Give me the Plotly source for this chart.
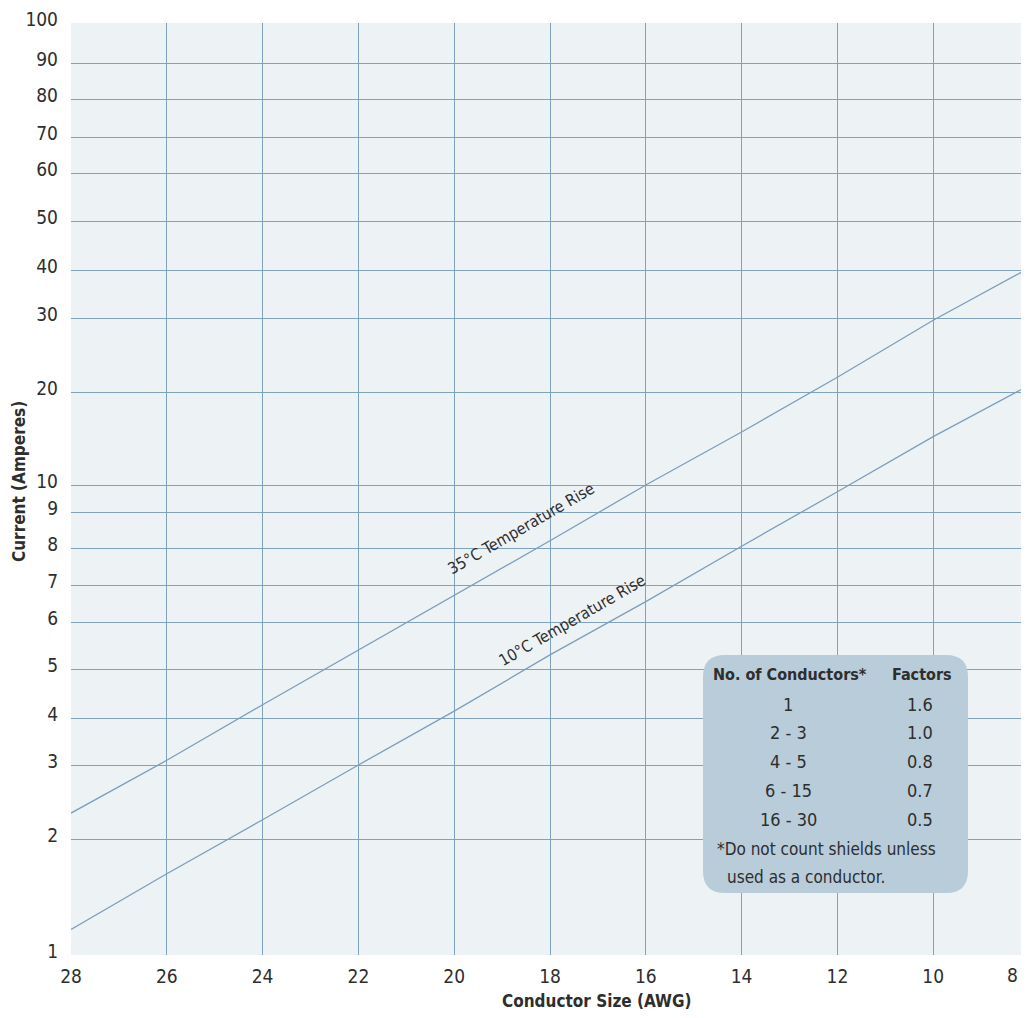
import numpy as np
import plotly.graph_objects as go

# ---------------- data ----------------
AWG = [28, 26, 24, 22, 20, 18, 16, 14, 12, 10, 8]
RISE_35C = [2.35, 3.1, 4.27, 5.4, 6.7, 8.2, 10.0, 15.7, 22.0, 29.7, 40.4]
RISE_10C = [1.22, 1.7, 2.26, 3.0, 4.14, 5.3, 6.55, 8.05, 9.75, 15.2, 20.9]

Y_TICK_VALUES = [1, 2, 3, 4, 5, 6, 7, 8, 9, 10, 20, 30, 40, 50, 60, 70, 80, 90, 100]
X_TICK_VALUES = [28, 26, 24, 22, 20, 18, 16, 14, 12, 10, 8]

TABLE_CONDUCTORS = ["1", "2 - 3", "4 - 5", "6 - 15", "16 - 30"]
TABLE_FACTORS = ["1.6", "1.0", "0.8", "0.7", "0.5"]

# ------------- custom (hand-drawn) logarithmic scale of the original chart -------------
Y_SCALE_POS = [0, 116, 190, 237, 286, 333, 370, 407, 443, 470,
               563, 637, 685, 734, 782, 818, 856, 892, 932]


def yscale(v):
    return np.interp(np.asarray(v, dtype=float), Y_TICK_VALUES, Y_SCALE_POS)


# ------------- layout geometry (page has an 8px body margin) -------------
OFF = 8
W, H = 1029 - 2 * OFF, 1018 - 2 * OFF
ML, MR, MT = 71 - OFF, 0, 23 - OFF
MB = H - (955 - OFF)
PW = W - ML - MR
PH = H - MT - MB
PX_PER_AWG = 47.9                      # horizontal scale of the reference
X_END = 28 - PW / PX_PER_AWG           # plot is cut just before AWG 8

FONT = "DejaVu Sans Condensed, Liberation Sans Narrow, Arial Narrow, sans-serif"
GRID = "#7fa3bf"
LINE = "#7a9fbc"
BG = "#edf2f5"
BOX = "#b8ccda"
TXT = "#2e2e2e"


def px(x):
    return (x - OFF - ML) / PW


def py(y):
    return (H - MB - (y - OFF)) / PH


def note(x, y, text, size, xanchor="center", angle=0, ref="paper"):
    if ref == "paper":
        return dict(x=px(x), y=py(y), xref="paper", yref="paper", text=text,
                    showarrow=False, xanchor=xanchor, yanchor="middle", textangle=angle,
                    font=dict(family=FONT, size=size, color=TXT))
    return dict(x=x, y=y, xref="x", yref="y", text=text,
                showarrow=False, xanchor=xanchor, yanchor="middle", textangle=angle,
                font=dict(family=FONT, size=size, color=TXT))


fig = go.Figure()

fig.add_trace(go.Scatter(x=AWG, y=yscale(RISE_35C), mode="lines",
                         line=dict(color=LINE, width=1.3), name="35°C Temperature Rise",
                         hoverinfo="skip", cliponaxis=True))
fig.add_trace(go.Scatter(x=AWG, y=yscale(RISE_10C), mode="lines",
                         line=dict(color=LINE, width=1.3), name="10°C Temperature Rise",
                         hoverinfo="skip", cliponaxis=True))

annotations = []
# line labels
annotations.append(note(18.6, float(yscale(8.55)), "35°C Temperature Rise", 16,
                        angle=-30, ref="data"))
annotations.append(note(17.55, float(yscale(6.05)), "10°C Temperature Rise", 16,
                        angle=-30, ref="data"))

# x tick label at the clipped right edge
annotations.append(note(1020, 975, "8", 19, xanchor="right"))

# axis titles
annotations.append(note(597, 1001, "<b>Conductor Size (AWG)</b>", 17))
annotations.append(note(19, 482, "<b>Current (Amperes)</b>", 17, angle=-90))

# inset table
annotations.append(note(790, 674, "<b>No. of Conductors*</b>", 16))
annotations.append(note(922, 674, "<b>Factors</b>", 16))
for i, (c, f) in enumerate(zip(TABLE_CONDUCTORS, TABLE_FACTORS)):
    yy = 704 + i * 28.8
    annotations.append(note(788, yy, c, 18))
    annotations.append(note(920, yy, f, 18))
annotations.append(note(715, 849, "*Do not count shields unless", 17, xanchor="left"))
annotations.append(note(725, 877, "used as a conductor.", 17, xanchor="left"))

# rounded box
bx0, bx1, by0, by1, r = 703, 968, 655, 893, 22
rx, ry = r / PW, r / PH
X0, X1, Y0, Y1 = px(bx0), px(bx1), py(by1), py(by0)
path = (f"M {X0+rx},{Y0} L {X1-rx},{Y0} Q {X1},{Y0} {X1},{Y0+ry} "
        f"L {X1},{Y1-ry} Q {X1},{Y1} {X1-rx},{Y1} L {X0+rx},{Y1} "
        f"Q {X0},{Y1} {X0},{Y1-ry} L {X0},{Y0+ry} Q {X0},{Y0} {X0+rx},{Y0} Z")
shapes = [dict(type="path", path=path, xref="paper", yref="paper",
               fillcolor=BOX, line=dict(width=0), layer="above")]

x_ticks_shown = X_TICK_VALUES[:-1]

fig.update_layout(
    width=W, height=H,
    margin=dict(l=ML, r=MR, t=MT, b=MB, autoexpand=False),
    paper_bgcolor="white", plot_bgcolor=BG,
    showlegend=False,
    font=dict(family=FONT, color=TXT),
    annotations=annotations,
    shapes=shapes,
    xaxis=dict(range=[28, X_END], tickvals=x_ticks_shown,
               ticktext=[str(v) for v in x_ticks_shown],
               showgrid=True, gridcolor=GRID, gridwidth=1.3,
               zeroline=False, showline=False, ticks="", automargin=False,
               ticklabelstandoff=8, ticklabeloverflow="allow",
               tickfont=dict(family=FONT, size=19, color=TXT)),
    yaxis=dict(range=[0, 932], tickvals=list(yscale(Y_TICK_VALUES)),
               ticktext=[str(v) for v in Y_TICK_VALUES],
               showgrid=True, gridcolor=GRID, gridwidth=1.3,
               zeroline=False, showline=False, ticks="", automargin=False,
               ticklabelstandoff=12, ticklabelshift=-4, ticklabeloverflow="allow",
               tickfont=dict(family=FONT, size=19, color=TXT)),
)

fig.write_html("out.html")
